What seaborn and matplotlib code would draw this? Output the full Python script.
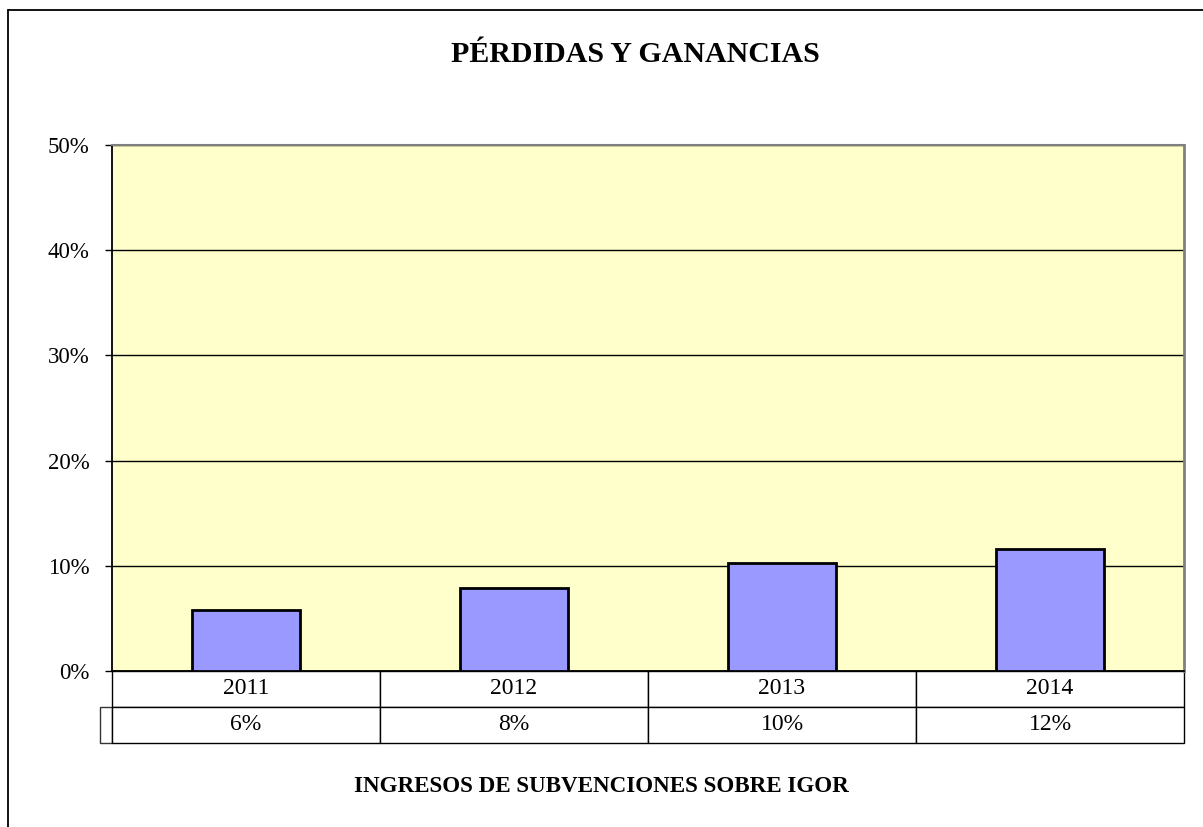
import matplotlib
matplotlib.use("Agg")
import matplotlib.pyplot as plt
import seaborn as sns
from matplotlib.ticker import PercentFormatter
from matplotlib.lines import Line2D

# ── Data ──────────────────────────────────────────────────────────────
years = ["2011", "2012", "2013", "2014"]
ratios = [0.058, 0.079, 0.103, 0.116]
yticks = [0.0, 0.1, 0.2, 0.3, 0.4, 0.5]
title = "PÉRDIDAS Y GANANCIAS"
xlabel = "INGRESOS DE SUBVENCIONES SOBRE IGOR"

# ── Style ─────────────────────────────────────────────────────────────
sns.set_style("white")
plt.rcParams["font.family"] = ["Liberation Serif", "DejaVu Serif"]
plt.rcParams["text.color"] = "black"
plt.rcParams["ytick.color"] = "black"
plt.rcParams["ytick.labelcolor"] = "black"

W, H = 1203, 827
AX_W, AX_H = 1072, 526
fig = plt.figure(figsize=(W / 100, H / 100), dpi=100)
ax = fig.add_axes([112 / W, (H - 671) / H, AX_W / W, AX_H / H])
ax.set_facecolor("#FFFFCC")

# ── Bars ──────────────────────────────────────────────────────────────
sns.barplot(x=years, y=ratios, color="#9999FF", saturation=1, width=0.4,
            edgecolor="black", linewidth=2, ax=ax, zorder=3)

ax.set_ylim(0, 0.5)
ax.set_yticks(yticks)
ax.yaxis.set_major_formatter(PercentFormatter(1.0, decimals=0))
ax.set_xticks([])
ax.set_xlabel("")
ax.set_ylabel("")
ax.set_axisbelow(True)
ax.yaxis.grid(True, color="black", linewidth=1)
ax.tick_params(axis="y", left=True, length=5, width=1, color="black",
               labelcolor="black", labelsize=16.5, pad=11)

ax.spines["top"].set_color("#808080")
ax.spines["top"].set_linewidth(1.5)
ax.spines["right"].set_color("#808080")
ax.spines["right"].set_linewidth(2)
ax.spines["left"].set_color("black")
ax.spines["left"].set_linewidth(1.3)
ax.spines["bottom"].set_color("black")
ax.spines["bottom"].set_linewidth(1.3)

# ── Data table ────────────────────────────────────────────────────────
key_w = 12 / AX_W
tbl = ax.table(cellText=[[f"{v:.0%}" for v in ratios]], colLabels=years,
               colWidths=[0.25] * 4, cellLoc="center",
               bbox=[0, -72 / AX_H, 1, 72 / AX_H])
# empty legend-key cell left of the value row
tbl.add_cell(1, -1, width=key_w, height=tbl[1, 0].get_height(), text="")
tbl.auto_set_font_size(False)
tbl.set_fontsize(17)
for (row, col), cell in tbl.get_celld().items():
    cell.set_linewidth(1)
    cell.set_edgecolor("#333333" if col == -1 else "black")
    cell.get_text().set_color("black")

# ── Texts and chart border ────────────────────────────────────────────
fig.text(635 / W, 1 - 55 / H, title, ha="center", va="center",
         fontsize=21.5, fontweight="bold", color="black")
fig.text(601 / W, 1 - 787 / H, xlabel, ha="center", va="center",
         fontsize=16.6, fontweight="bold", color="black")

fig.add_artist(Line2D([8 / W, 8 / W], [0, 1 - 10 / H], transform=fig.transFigure,
                      color="black", linewidth=1.3))
fig.add_artist(Line2D([8 / W, 1], [1 - 10 / H, 1 - 10 / H], transform=fig.transFigure,
                      color="black", linewidth=1.3))

fig.savefig("out.png", dpi=100)
